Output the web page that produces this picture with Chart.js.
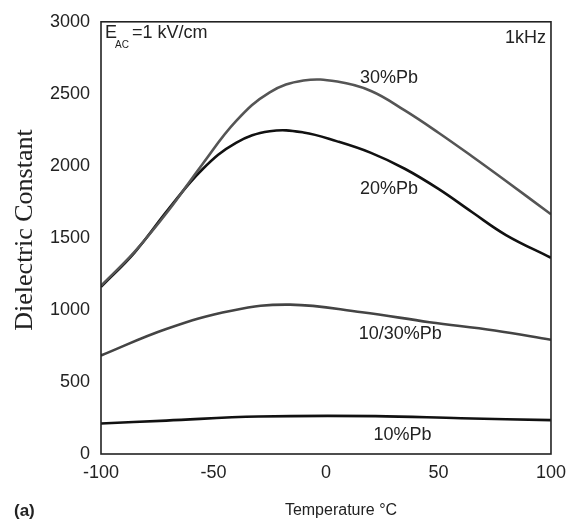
<!DOCTYPE html>
<html>
<head>
<meta charset="utf-8">
<script src="https://cdn.jsdelivr.net/npm/chart.js@4.4.1/dist/chart.umd.min.js"></script>
<style>
  html, body { margin: 0; padding: 0; background: #fff; }
  #wrap { width: 574px; height: 523px; }
</style>
</head>
<body>
<div id="wrap"><canvas id="myChart" width="574" height="523"></canvas></div>
<script>
// data (temperature in °C, dielectric constant)
const temps = [-100, -85, -70, -55, -40, -25, -10, 5, 20, 35, 50, 65, 80, 100];
const eps30 = [1168, 1405, 1690, 2010, 2310, 2510, 2592, 2585, 2520, 2385, 2230, 2065, 1895, 1664];
const eps20 = [1160, 1400, 1700, 1975, 2160, 2240, 2232, 2170, 2090, 1980, 1840, 1678, 1520, 1362];

const temp1030 = [-100, -71, -42, -16, 16, 46, 75, 100];
const eps1030 = [684, 868, 995, 1037, 984, 915, 857, 793];

const temp10 = [-100, -71, -30, 22, 60, 100];
const eps10 = [212, 232, 260, 263, 248, 235];

const xTicks = [-100, -50, 0, 50, 100];
const yTicks = [0, 500, 1000, 1500, 2000, 2500, 3000];

// curve labels: [text, temperature, value]
const curveLabels = [
    ['30%Pb', 28, 2613],
    ['20%Pb', 28, 1839],
    ['10/30%Pb', 33, 836],
    ['10%Pb', 34, 131]
];

const sans = '"Liberation Sans", Arial, sans-serif';

const toPoints = (xs, ys) => xs.map((t, i) => ({x: t, y: ys[i]}));

const line = (label, xs, ys, color) => ({
    label,
    data: toPoints(xs, ys),
    borderColor: color,
    borderWidth: 2.6,
    pointRadius: 0,
    fill: false,
    tension: 0.4
});

// frame, labels and axis titles
const decorPlugin = {
    id: 'decor',
    afterDraw(chart) {
        const {ctx, chartArea: {top, bottom, left, right}, scales: {x, y}} = chart;
        ctx.save();
        ctx.strokeStyle = '#222';
        ctx.lineWidth = 1.6;
        ctx.strokeRect(left, top, right - left, bottom - top);

        ctx.fillStyle = '#222';
        ctx.font = '18px ' + sans;
        ctx.textAlign = 'center';
        ctx.textBaseline = 'middle';
        curveLabels.forEach(([txt, t, v]) => {
            ctx.fillText(txt, x.getPixelForValue(t), y.getPixelForValue(v));
        });

        // E_AC = 1 kV/cm
        ctx.textAlign = 'left';
        ctx.font = '18px ' + sans;
        ctx.fillText('E', left + 4, top + 11);
        ctx.font = '10px ' + sans;
        ctx.fillText('AC', left + 14, top + 23);
        ctx.font = '18px ' + sans;
        ctx.fillText('=1 kV/cm', left + 31, top + 11);

        ctx.textAlign = 'right';
        ctx.fillText('1kHz', right - 5, top + 16);

        // axis titles
        ctx.textAlign = 'center';
        ctx.font = '16px ' + sans;
        ctx.fillText('Temperature \u00B0C', 341, 511);

        ctx.textAlign = 'left';
        ctx.font = 'bold 17px ' + sans;
        ctx.fillText('(a)', 14, 511);

        ctx.translate(25, 230);
        ctx.rotate(-Math.PI / 2);
        ctx.textAlign = 'center';
        ctx.font = '26px "Liberation Serif", "Times New Roman", serif';
        ctx.fillText('Dielectric Constant', 0, 0);
        ctx.restore();
    }
};

new Chart(document.getElementById('myChart'), {
    type: 'line',
    data: {
        datasets: [
            line('30%Pb', temps, eps30, '#555'),
            line('20%Pb', temps, eps20, '#111'),
            line('10/30%Pb', temp1030, eps1030, '#444'),
            line('10%Pb', temp10, eps10, '#111')
        ]
    },
    options: {
        responsive: false,
        animation: false,
        layout: {padding: {left: 0, right: 17, top: 20, bottom: 0}},
        plugins: {
            legend: {display: false},
            tooltip: {enabled: false}
        },
        scales: {
            x: {
                type: 'linear',
                min: -100,
                max: 100,
                afterBuildTicks: (scale) => { scale.ticks = xTicks.map(v => ({value: v})); },
                afterFit: (scale) => { scale.height = 69; },
                grid: {display: false, drawTicks: false},
                border: {display: false},
                ticks: {
                    color: '#222',
                    padding: 8,
                    maxRotation: 0,
                    callback: (v) => String(v),
                    font: {family: sans, size: 18}
                }
            },
            y: {
                min: 0,
                max: 3000,
                afterBuildTicks: (scale) => { scale.ticks = yTicks.map(v => ({value: v})); },
                afterFit: (scale) => { scale.width = 101; },
                grid: {display: false, drawTicks: false},
                border: {display: false},
                ticks: {
                    color: '#222',
                    padding: 11,
                    callback: (v) => String(v),
                    font: {family: sans, size: 18}
                }
            }
        }
    },
    plugins: [decorPlugin]
});
</script>
</body>
</html>
